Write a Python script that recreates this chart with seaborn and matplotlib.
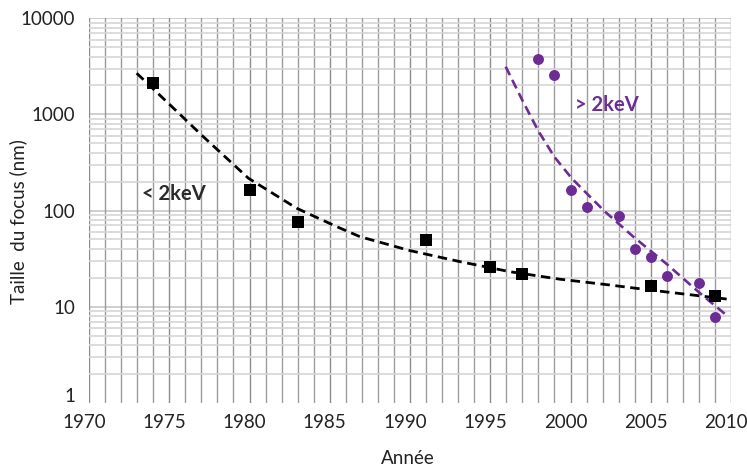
import numpy as np
import pandas as pd
import matplotlib
matplotlib.use("Agg")
import matplotlib.pyplot as plt
import matplotlib.transforms as mtransforms
from matplotlib.ticker import LogLocator, FixedLocator, NullFormatter
import seaborn as sns

# ---- data ----
soft_years = [1974, 1980, 1983, 1991, 1995, 1997, 2005, 2009]
soft_size = [2143, 164, 75.5, 49.4, 26.1, 21.7, 16.4, 13.0]

hard_years = [1998, 1999, 2000, 2001, 2003, 2004, 2005, 2006, 2008, 2009]
hard_size = [3752, 2577, 163, 109, 87.9, 39.6, 32.7, 20.9, 17.5, 7.76]

# trend curves
soft_trend_years = [1972.97, 1975.05, 1977.12, 1979.93, 1982.94, 1985.43, 1986.88,
                    1990.0, 1993.12, 1996.23, 1999.35, 2002.46, 2004.95, 2007.65, 2009.73]
soft_trend_size = [2684, 1256, 587, 217, 105.7, 68, 53.5,
                   38.3, 29.4, 23.1, 19.3, 16.8, 14.9, 13.2, 12.0]

hard_trend_years = [1995.96, 1997.0, 1998.0, 1999.0, 2000.07, 2001.11, 2002.15,
                    2003.91, 2005.99, 2008.07, 2009.83]
hard_trend_size = [3143, 1403, 671, 361, 217, 145, 97.4,
                   53.5, 27.8, 13.8, 7.87]

year_ticks = [1970, 1975, 1980, 1985, 1990, 1995, 2000, 2005, 2010]
size_ticks = [1, 10, 100, 1000, 10000]

PURPLE = "#6b2d93"
TXT = "#222222"

sns.set_theme(style="white")
plt.rcParams["font.family"] = ["Lato", "DejaVu Sans"]

fig = plt.figure(figsize=(7.47, 4.69), dpi=100)
ax = fig.add_axes([89 / 747, 1 - 402.8 / 469, (731 - 89) / 747, (402.8 - 18.3) / 469])

ax.set_yscale("log")
ax.set_xlim(1970, 2010)
ax.set_ylim(1, 10000)

# grid
ax.xaxis.set_major_locator(FixedLocator(year_ticks))
ax.xaxis.set_minor_locator(FixedLocator(list(range(1971, 2010))))
ax.yaxis.set_major_locator(FixedLocator(size_ticks))
ax.yaxis.set_minor_locator(LogLocator(base=10, subs=np.arange(2, 10)))
ax.yaxis.set_minor_formatter(NullFormatter())
ax.set_axisbelow(True)
ax.grid(True, which="major", axis="x", color="#8c8c8c", lw=1.0)
ax.grid(True, which="minor", axis="x", color="#9c9c9c", lw=1.0)
ax.grid(True, which="minor", axis="y", color="#d6d6d6", lw=1.2)
for v in size_ticks[1:]:
    ax.axhline(v, color="#cccccc", lw=1.3, zorder=0.5)

for s in ax.spines.values():
    s.set_visible(False)
ax.tick_params(which="both", length=0)
ax.tick_params(axis="x", labelsize=13.5, pad=8, labelcolor=TXT)
ax.tick_params(axis="y", labelsize=13.5, pad=10, labelcolor=TXT)
ax.set_xticklabels([str(y) for y in year_ticks])
ax.set_yticklabels([str(v) for v in size_ticks])
shift = mtransforms.ScaledTranslation(-5 / 100, 0, fig.dpi_scale_trans)
for lab in ax.get_xticklabels():
    lab.set_transform(lab.get_transform() + shift)
up = mtransforms.ScaledTranslation(0, 8 / 100, fig.dpi_scale_trans)
ylabs = ax.get_yticklabels()
ylabs[0].set_transform(ylabs[0].get_transform() + up)

# trend lines
soft_tr = pd.DataFrame({"year": soft_trend_years, "size": soft_trend_size})
hard_tr = pd.DataFrame({"year": hard_trend_years, "size": hard_trend_size})
sns.lineplot(data=soft_tr, x="year", y="size", ax=ax, color="black", lw=2.0,
             sort=False, estimator=None, zorder=3)
ax.lines[-1].set_dashes([3.4, 2.0])
sns.lineplot(data=hard_tr, x="year", y="size", ax=ax, color=PURPLE, lw=1.9,
             sort=False, estimator=None, zorder=3)
ax.lines[-1].set_dashes([3.6, 2.0])

# points
soft = pd.DataFrame({"year": soft_years, "size": soft_size})
hard = pd.DataFrame({"year": hard_years, "size": hard_size})
sns.scatterplot(data=soft, x="year", y="size", ax=ax, marker="s", s=85,
                color="black", edgecolor="black", linewidth=0, zorder=4)
sns.scatterplot(data=hard, x="year", y="size", ax=ax, marker="o", s=62,
                color=PURPLE, edgecolor=PURPLE, linewidth=0, zorder=4)

# annotations
ax.text(1973.3, 150, "< 2keV", fontsize=14.5, fontweight="bold", color="#2a2a2a",
        va="center", ha="left")
ax.text(2000.3, 1250, "> 2keV", fontsize=14.5, fontweight="bold", color=PURPLE,
        va="center", ha="left")

ax.set_xlabel("Année", fontsize=13.5, color=TXT)
ax.xaxis.set_label_coords(408 / 747, 1 - 458 / 469, transform=fig.transFigure)
ax.set_ylabel("Taille  du focus (nm)", fontsize=13.5, color=TXT)
ax.yaxis.set_label_coords(18 / 747, 1 - 222 / 469, transform=fig.transFigure)
ax.xaxis.label.set_va("center")
ax.yaxis.label.set_va("center")

fig.savefig("out.png", dpi=100)
